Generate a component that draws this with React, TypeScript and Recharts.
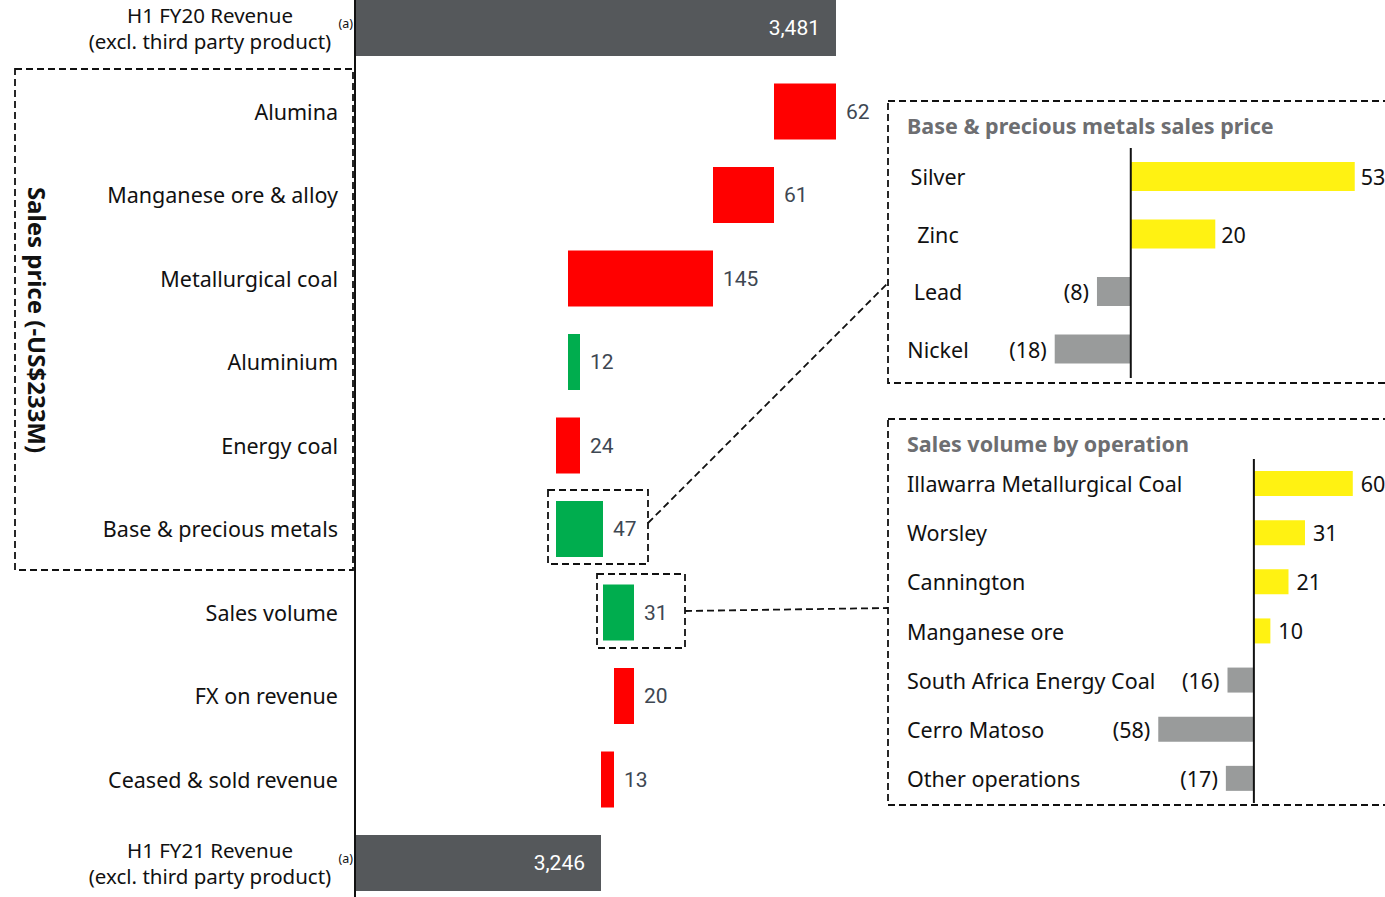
import React from "react";
import { BarChart, Bar, XAxis, YAxis, Cell, LabelList, ReferenceLine } from "recharts";

// main waterfall
const categories = [
  "H1 FY20 Revenue\n(excl. third party product)",
  "Alumina",
  "Manganese ore & alloy",
  "Metallurgical coal",
  "Aluminium",
  "Energy coal",
  "Base & precious metals",
  "Sales volume",
  "FX on revenue",
  "Ceased & sold revenue",
  "H1 FY21 Revenue\n(excl. third party product)",
];
const openingRevenue = 3481;
const closingRevenue = 3246;
const changes = [-62, -61, -145, 12, -24, 47, 31, -20, -13];

// inset: base & precious metals sales price
const metalNames = ["Silver", "Zinc", "Lead", "Nickel"];
const metalValues = [53, 20, -8, -18];

// inset: sales volume by operation
const operationNames = [
  "Illawarra Metallurgical Coal",
  "Worsley",
  "Cannington",
  "Manganese ore",
  "South Africa Energy Coal",
  "Cerro Matoso",
  "Other operations",
];
const operationValues = [60, 31, 21, 10, -16, -58, -17];

const TOTAL = "#55585b";
const UP = "#00ad4e";
const DOWN = "#ff0000";
const POS = "#fff212";
const NEG = "#999b9b";
const FONT = "'Noto Sans', sans-serif";
const NUM_FONT = "Roboto, sans-serif";
const FS = 21.5;

type Row = { name: string; range: [number, number]; kind: "total" | "up" | "down"; label: string };

const rows: Row[] = [];
rows.push({ name: categories[0], range: [0, openingRevenue], kind: "total", label: openingRevenue.toLocaleString("en-US") });
let running = openingRevenue;
changes.forEach((c, i) => {
  const next = running + c;
  rows.push({
    name: categories[i + 1],
    range: [Math.min(running, next), Math.max(running, next)],
    kind: c >= 0 ? "up" : "down",
    label: String(Math.abs(c)),
  });
  running = next;
});
rows.push({ name: categories[categories.length - 1], range: [0, closingRevenue], kind: "total", label: closingRevenue.toLocaleString("en-US") });

const metalData = metalNames.map((name, i) => ({ name, value: metalValues[i] }));
const operationData = operationNames.map((name, i) => ({ name, value: operationValues[i] }));

function box(props: any) {
  const vb = props.viewBox || props;
  const x = Number(vb.x ?? props.x);
  const w = Number(vb.width ?? props.width);
  const y = Number(vb.y ?? props.y);
  const h = Number(vb.height ?? props.height);
  return { left: Math.min(x, x + w), right: Math.max(x, x + w), cy: y + h / 2 };
}

const WaterfallLabel = (props: any) => {
  const row = rows[props.index];
  if (!row) return null;
  const { right, cy } = box(props);
  if (row.kind === "total") {
    return (
      <text x={right - 16} y={cy} textAnchor="end" dominantBaseline="central" fill="#fff" fontSize={21} fontFamily={NUM_FONT}>
        {row.label}
      </text>
    );
  }
  return (
    <text x={right + 10} y={cy} textAnchor="start" dominantBaseline="central" fill="#3e4752" fontSize={21} fontFamily={NUM_FONT}>
      {row.label}
    </text>
  );
};

const CategoryTick = (props: any) => {
  const { y, payload } = props;
  const lines = String(payload.value).split("\n");
  if (lines.length === 1) {
    return (
      <text x={338} y={y} textAnchor="end" dominantBaseline="central" fill="#111" fontSize={FS} fontFamily={FONT}>
        {lines[0]}
      </text>
    );
  }
  return (
    <g>
      <text x={210} y={y - 13} textAnchor="middle" dominantBaseline="central" fill="#111" fontSize={20.5} fontFamily={FONT}>
        {lines[0]}
      </text>
      <text x={210} y={y + 13} textAnchor="middle" dominantBaseline="central" fill="#111" fontSize={20.5} fontFamily={FONT}>
        {lines[1]}
      </text>
      <text x={338.5} y={y - 4} textAnchor="start" dominantBaseline="central" fill="#111" fontSize={12.5} fontFamily={FONT}>
        (a)
      </text>
    </g>
  );
};

const fmtSigned = (v: number) => (v < 0 ? `(${Math.abs(v)})` : String(v));

const makeInsetLabel = (values: number[], gapPos: number, gapNeg: number) => (props: any) => {
  const v = values[props.index];
  if (v === undefined) return null;
  const { left, right, cy } = box(props);
  return (
    <text
      x={v >= 0 ? right + gapPos : left - gapNeg}
      y={cy}
      textAnchor={v >= 0 ? "start" : "end"}
      dominantBaseline="central"
      fill="#111"
      fontSize={FS}
      fontFamily={FONT}
    >
      {fmtSigned(v)}
    </text>
  );
};

const MetalLabel = makeInsetLabel(metalValues, 6, 8);
const OperationLabel = makeInsetLabel(operationValues, 8, 8);

const MetalTick = (props: any) => (
  <text x={50} y={props.y} textAnchor="middle" dominantBaseline="central" fill="#111" fontSize={FS} fontFamily={FONT}>
    {props.payload.value}
  </text>
);

const OperationTick = (props: any) => (
  <text x={19} y={props.y} textAnchor="start" dominantBaseline="central" fill="#111" fontSize={FS} fontFamily={FONT}>
    {props.payload.value}
  </text>
);

const dash = { stroke: "#111", strokeWidth: 1.8, strokeDasharray: "7 4", fill: "none" };

export default function App() {
  return (
    <div style={{ position: "absolute", left: 0, top: 0, width: 1385, height: 897, overflow: "hidden", background: "#fff" }}>
      <div style={{ position: "absolute", left: 0, top: -14.25 }}>
        <BarChart width={1385} height={918.5} layout="vertical" data={rows} margin={{ top: 0, right: 0, bottom: 0, left: 0 }}>
          <XAxis type="number" domain={[3000, 4030]} allowDataOverflow hide />
          <YAxis
            type="category"
            dataKey="name"
            width={355}
            axisLine={{ stroke: "#111", strokeWidth: 2 }}
            tickLine={false}
            tick={<CategoryTick />}
            interval={0}
          />
          <Bar dataKey="range" barSize={56} isAnimationActive={false}>
            {rows.map((r, i) => (
              <Cell key={i} fill={r.kind === "total" ? TOTAL : r.kind === "up" ? UP : DOWN} />
            ))}
            <LabelList dataKey="label" content={<WaterfallLabel />} />
          </Bar>
        </BarChart>
      </div>

      <div style={{ position: "absolute", left: 888, top: 101 }}>
        <BarChart width={509} height={282} layout="vertical" data={metalData} margin={{ top: 47, right: 0, bottom: 5, left: 0 }}>
          <XAxis type="number" domain={[-30, 63]} allowDataOverflow hide />
          <YAxis type="category" dataKey="name" width={116} axisLine={false} tickLine={false} tick={<MetalTick />} interval={0} />
          <Bar dataKey="value" barSize={29} isAnimationActive={false}>
            {metalData.map((d, i) => (
              <Cell key={i} fill={d.value >= 0 ? POS : NEG} />
            ))}
            <LabelList dataKey="value" content={<MetalLabel />} />
          </Bar>
          <ReferenceLine x={0} stroke="#111" strokeWidth={2} />
        </BarChart>
      </div>

      <div style={{ position: "absolute", left: 888, top: 419 }}>
        <BarChart width={506} height={386} layout="vertical" data={operationData} margin={{ top: 40, right: 0, bottom: 2, left: 0 }}>
          <XAxis type="number" domain={[-80, 85]} allowDataOverflow hide />
          <YAxis type="category" dataKey="name" width={234} axisLine={false} tickLine={false} tick={<OperationTick />} interval={0} />
          <Bar dataKey="value" barSize={25} isAnimationActive={false}>
            {operationData.map((d, i) => (
              <Cell key={i} fill={d.value >= 0 ? POS : NEG} />
            ))}
            <LabelList dataKey="value" content={<OperationLabel />} />
          </Bar>
          <ReferenceLine x={0} stroke="#111" strokeWidth={2} />
        </BarChart>
      </div>

      <svg width={1385} height={897} style={{ position: "absolute", left: 0, top: 0, pointerEvents: "none" }}>
        <rect x={15} y={69} width={338} height={501} {...dash} />
        <text
          transform="translate(37,320) rotate(90)"
          textAnchor="middle"
          dominantBaseline="central"
          fontSize={24}
          fontWeight="bold"
          fontFamily={FONT}
          fill="#111"
        >
          Sales price (-US$233M)
        </text>
        <rect x={548} y={490} width={100} height={74} {...dash} />
        <rect x={597} y={574} width={88} height={74} {...dash} />
        <line x1={648} y1={523} x2={888} y2={283} {...dash} />
        <line x1={685} y1={611} x2={888} y2={608} {...dash} />
        <rect x={888} y={101} width={520} height={282} {...dash} />
        <rect x={888} y={419} width={520} height={386} {...dash} />
        <text x={907} y={125} dominantBaseline="central" fontSize={21.5} fontWeight="bold" fontFamily={FONT} fill="#6d6e71">
          Base &amp; precious metals sales price
        </text>
        <text x={907} y={443} dominantBaseline="central" fontSize={21.5} fontWeight="bold" fontFamily={FONT} fill="#6d6e71">
          Sales volume by operation
        </text>
      </svg>
    </div>
  );
}
